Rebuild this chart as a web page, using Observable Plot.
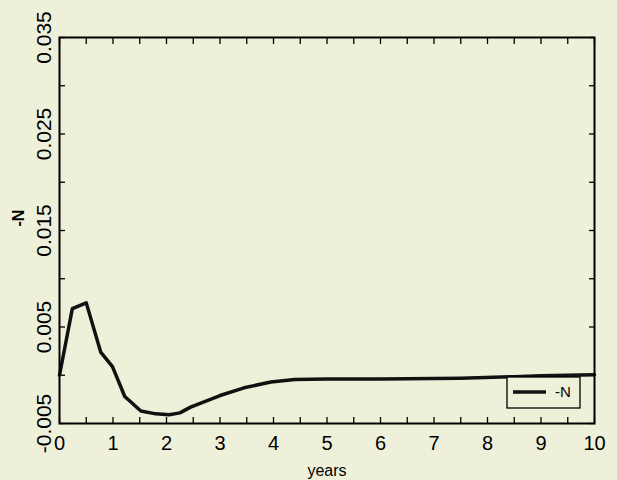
<!DOCTYPE html>
<html>
<head>
<meta charset="utf-8">
<script src="https://cdn.jsdelivr.net/npm/d3@7"></script>
<script src="https://cdn.jsdelivr.net/npm/@observablehq/plot@0.6"></script>
<style>
  html, body { margin: 0; padding: 0; background: #eff0da; }
  #chart svg { display: block; }
</style>
</head>
<body>
<div id="chart"></div>
<script>
// Data
const years = [0, 0.24, 0.5, 0.77, 0.99, 1.22, 1.52, 1.8, 2.05, 2.25, 2.45, 3.0, 3.45, 3.95, 4.4, 5.0, 6.0, 6.5, 7.5, 8.5, 9.0, 10.0];
const negN  = [0.0, 0.0069, 0.0075, 0.0024, 0.0009, -0.0022, -0.0037, -0.0040, -0.0041, -0.0039, -0.0033, -0.0021, -0.0013, -0.0007, -0.00045, -0.0004, -0.00038, -0.00035, -0.0003, -0.00015, -0.00005, 0.00005];

const xTickLabels = [0, 1, 2, 3, 4, 5, 6, 7, 8, 9, 10];
const xMinorTicks = d3.range(0, 10.01, 0.5);
const yTickLabels = [-0.005, 0.005, 0.015, 0.025, 0.035];
const yMinorTicks = [-0.005, 0, 0.005, 0.01, 0.015, 0.02, 0.025, 0.03, 0.035];
const seriesName = "-N";

const data = years.map((t, i) => ({t, v: negN[i]}));
const font = "'Liberation Sans', Arial, sans-serif";
const T = 6; // tick length (inward)

const chart = Plot.plot({
  width: 617,
  height: 480,
  marginLeft: 59,
  marginRight: 23,
  marginTop: 37,
  marginBottom: 57,
  style: {background: "#eff0da", fontFamily: font, color: "black"},
  x: {domain: [0, 10]},
  y: {domain: [-0.005, 0.035]},
  marks: [
    // inward ticks on all four sides
    Plot.axisX(xMinorTicks, {anchor: "bottom", tickSize: T, dy: -T, text: null, label: null, strokeWidth: 1.3}),
    Plot.axisX(xMinorTicks, {anchor: "top", tickSize: T, dy: T, text: null, label: null, strokeWidth: 1.3}),
    Plot.axisY(yMinorTicks, {anchor: "left", tickSize: T, dx: T, text: null, label: null, strokeWidth: 1.3}),
    Plot.axisY(yMinorTicks, {anchor: "right", tickSize: T, dx: -T, text: null, label: null, strokeWidth: 1.3}),
    // x tick labels
    Plot.text(xTickLabels, {x: d => d, frameAnchor: "bottom", dy: 12, text: d => String(d), fontSize: 20, lineAnchor: "top"}),
    // y tick labels (rotated)
    Plot.text(yTickLabels, {y: d => d, frameAnchor: "left", dx: -15, text: d => d3.format(".3f")(d).replace("−", "-"), fontSize: 21, rotate: -90, textAnchor: "middle"}),
    // axis labels
    Plot.text([seriesName], {frameAnchor: "left", dx: -41, dy: -4, text: d => d, fontSize: 16, rotate: -90, fontWeight: "bold"}),
    Plot.text(["years"], {frameAnchor: "bottom", dy: 41, text: d => d, fontSize: 16, lineAnchor: "top"}),
    Plot.line(data, {x: "t", y: "v", stroke: "#111", strokeWidth: 3.5, curve: "linear"}),
    Plot.frame({stroke: "black", strokeWidth: 2})
  ]
});
document.getElementById("chart").appendChild(chart);

// Legend box inside the frame, bottom right
const svg = d3.select(chart);
const g = svg.append("g");
g.append("rect").attr("x", 507).attr("y", 377).attr("width", 73).attr("height", 31)
  .attr("fill", "#eff0da").attr("stroke", "black").attr("stroke-width", 1.3);
g.append("line").attr("x1", 513).attr("x2", 546).attr("y1", 392).attr("y2", 392)
  .attr("stroke", "#111").attr("stroke-width", 3.5);
g.append("text").attr("x", 555).attr("y", 392).attr("dy", "0.36em")
  .attr("text-anchor", "start")
  .style("font-size", "15px").style("font-family", font).attr("fill", "black").text(seriesName);
</script>
</body>
</html>
